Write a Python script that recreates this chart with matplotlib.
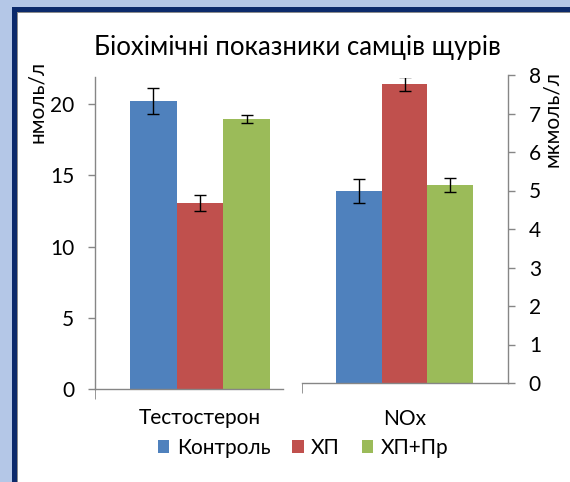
import matplotlib
matplotlib.use('Agg')
import matplotlib.pyplot as plt
from matplotlib.patches import Rectangle, Patch

plt.rcParams['font.family'] = ['Lato', 'Noto Sans', 'DejaVu Sans']

groups = ["Контроль", "ХП", "ХП+Пр"]
colors = ["#4f81bd", "#c0504d", "#9bbb59"]
title = "Біохімічні показники самців щурів"

# testosterone, nmol/l (left axis)
testo = [20.2, 13.05, 18.95]
testo_err = [0.92, 0.58, 0.29]
# NOx, umol/l (right axis)
nox = [4.98, 7.76, 5.14]
nox_err = [0.31, 0.18, 0.18]

W, H = 570, 482
fig = plt.figure(figsize=(W/100, H/100), dpi=100)
fig.patch.set_facecolor("#b4c7e7")
# frame of the slide
for x0, y0, c in [(12, 7, "#0c2a6b"), (17, 12, "#8c8c8c"), (18, 13, "white")]:
    fig.patches.append(Rectangle((x0/W, 0), 1, 1 - y0/H, transform=fig.transFigure,
                                 facecolor=c, edgecolor="none", zorder=-10))

xs = [-1, 0, 1]
gray = "#868686"
fs = 15

def style(ax):
    ax.set_facecolor("none")
    for s in ["top", "right", "left", "bottom"]:
        ax.spines[s].set_color(gray)
        ax.spines[s].set_linewidth(1)
    ax.tick_params(axis="y", colors=gray, labelcolor="black", labelsize=fs,
                   length=5, width=1)

# --- left: Testosterone ---
ax1 = fig.add_axes([95/W, (H-389)/H, 188/W, (389-77)/H])
ax1.bar(xs, testo, width=1, color=colors, edgecolor="none", zorder=2)
ax1.errorbar(xs, testo, yerr=testo_err, fmt="none", ecolor="black",
             elinewidth=1, capsize=4, capthick=1, zorder=3)
ax1.set_xlim(-2.25, 1.78)
ax1.set_ylim(0, 21.9)
ax1.set_yticks([0, 5, 10, 15, 20])
style(ax1)
ax1.spines["top"].set_visible(False)
ax1.spines["right"].set_visible(False)
ax1.set_xticks([0])
ax1.set_xticklabels(["Тестостерон"])
ax1.tick_params(axis="x", length=0, labelsize=fs, pad=14)
ax1.set_xticks([-2.25], minor=True)
ax1.tick_params(axis="x", which="minor", length=7, color=gray)
ax1.tick_params(axis="y", pad=10)
ax1.set_ylabel("нмоль/л", fontsize=fs)
ax1.yaxis.set_label_coords(-0.255, 0.92)

# --- right: NOx ---
ax2 = fig.add_axes([302/W, (H-383)/H, 206/W, (383-75)/H])
ax2.bar(xs, nox, width=1, color=colors, edgecolor="none", zorder=2)
eb = ax2.errorbar(xs, nox, yerr=nox_err, fmt="none", ecolor="black",
                  elinewidth=1, capsize=4, capthick=1, zorder=3)
ax2.set_xlim(-2.245, 2.266)
ax2.set_ylim(0, 8)
ax2.set_yticks(range(0, 9))
# the plot area cuts the top of the tallest error bar
clip = Rectangle((-3, 0), 6, 7.92, transform=ax2.transData)
for art in list(eb.lines[1]) + list(eb.lines[2]):
    art.set_clip_path(clip)
style(ax2)
ax2.spines["top"].set_visible(False)
ax2.spines["left"].set_visible(False)
ax2.yaxis.tick_right()
ax2.yaxis.set_label_position("right")
ax2.tick_params(axis="y", pad=10)
ax2.set_xticks([0])
ax2.set_xticklabels(["NOx"])
ax2.tick_params(axis="x", length=0, labelsize=fs, pad=19)
ax2.set_xticks([-2.245], minor=True)
ax2.tick_params(axis="x", which="minor", length=7, color=gray)
ax2.set_ylabel("мкмоль/л", fontsize=fs, rotation=90)
ax2.yaxis.set_label_coords(1.165, 0.857)

fig.text(297/W, 1 - 48/H, title, ha="center", va="center", fontsize=18.5)

handles = [Patch(facecolor=c, edgecolor="none") for c in colors]
fig.legend(handles, groups, loc="center", bbox_to_anchor=(303/W, 1 - 448/H),
           ncol=3, frameon=False, fontsize=fs, handlelength=0.55, handleheight=0.55,
           handletextpad=0.35, columnspacing=1.05)

fig.savefig("out.png", dpi=100, facecolor=fig.get_facecolor())
